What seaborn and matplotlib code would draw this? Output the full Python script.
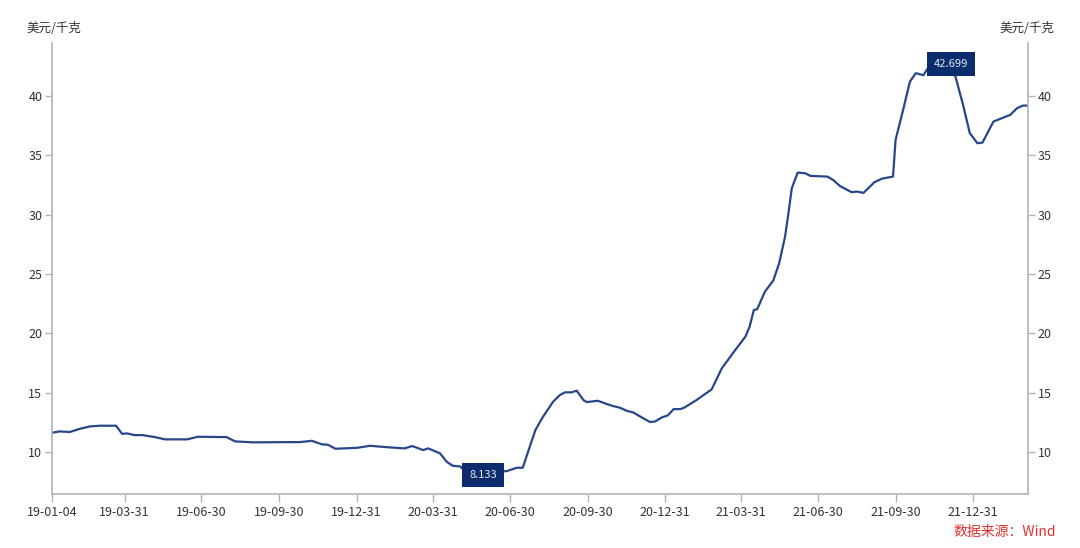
import pandas as pd
import matplotlib.pyplot as plt
import matplotlib.dates as mdates
import seaborn as sns

# weekly-ish price readings, USD per kg
dates = [
    '2019-01-04', '2019-01-13', '2019-01-25', '2019-02-06', '2019-02-18', '2019-03-02',
    '2019-03-21', '2019-03-28', '2019-04-03', '2019-04-12', '2019-04-21', '2019-05-06',
    '2019-05-18', '2019-06-13', '2019-06-26', '2019-07-30', '2019-08-09', '2019-08-30',
    '2019-10-13', '2019-10-25', '2019-11-08', '2019-11-20', '2019-11-27', '2019-12-06',
    '2020-01-01', '2020-01-16', '2020-02-09', '2020-02-26', '2020-03-06', '2020-03-19',
    '2020-03-25', '2020-04-08', '2020-04-16', '2020-04-23', '2020-05-02', '2020-05-11',
    '2020-05-25', '2020-06-12', '2020-06-26', '2020-07-08', '2020-07-15', '2020-07-30',
    '2020-08-08', '2020-08-20', '2020-08-28', '2020-09-03', '2020-09-11', '2020-09-17',
    '2020-09-25', '2020-09-29', '2020-10-12', '2020-10-23', '2020-10-30', '2020-11-07',
    '2020-11-16', '2020-11-23', '2020-12-03', '2020-12-13', '2020-12-19', '2020-12-27',
    '2021-01-03', '2021-01-10', '2021-01-18', '2021-01-23', '2021-02-06', '2021-02-24',
    '2021-03-08', '2021-03-24', '2021-04-05', '2021-04-10', '2021-04-15', '2021-04-19',
    '2021-04-28', '2021-05-08', '2021-05-15', '2021-05-22', '2021-05-26', '2021-05-30',
    '2021-06-06', '2021-06-15', '2021-06-21', '2021-07-11', '2021-07-18', '2021-07-26',
    '2021-08-09', '2021-08-15', '2021-08-23', '2021-09-05', '2021-09-14', '2021-09-27',
    '2021-09-30', '2021-10-09', '2021-10-17', '2021-10-24', '2021-11-02', '2021-11-08',
    '2021-11-17', '2021-11-29', '2021-12-10', '2021-12-19', '2021-12-27', '2022-01-05',
    '2022-01-11', '2022-01-24', '2022-02-03', '2022-02-13', '2022-02-21', '2022-02-28',
    '2022-03-06',
]
prices = [
    11.63, 11.74, 11.69, 11.96, 12.16, 12.22,
    12.22, 11.54, 11.57, 11.43, 11.43, 11.26,
    11.07, 11.07, 11.29, 11.26, 10.90, 10.82,
    10.84, 10.84, 10.95, 10.65, 10.62, 10.28,
    10.36, 10.53, 10.39, 10.31, 10.51, 10.17,
    10.31, 9.89, 9.18, 8.85, 8.79, 8.133,
    8.20, 8.30, 8.40, 8.68, 8.68, 11.85,
    12.97, 14.24, 14.80, 15.03, 15.03, 15.17,
    14.38, 14.21, 14.32, 14.04, 13.88, 13.74,
    13.46, 13.34, 12.92, 12.53, 12.58, 12.92,
    13.09, 13.62, 13.62, 13.76, 14.38, 15.28,
    17.05, 18.60, 19.72, 20.56, 21.97, 22.03,
    23.50, 24.44, 25.90, 28.14, 30.11, 32.22,
    33.54, 33.48, 33.26, 33.20, 32.92, 32.41,
    31.88, 31.94, 31.83, 32.73, 33.03, 33.20,
    36.29, 38.82, 41.20, 41.91, 41.74, 42.41,
    42.699, 42.50, 41.63, 39.24, 36.86, 36.01,
    36.06, 37.83, 38.12, 38.40, 38.96, 39.18,
    39.18,
]
tick_dates = ['2019-01-04', '2019-03-31', '2019-06-30', '2019-09-30', '2019-12-31',
              '2020-03-31', '2020-06-30', '2020-09-30', '2020-12-31', '2021-03-31',
              '2021-06-30', '2021-09-30', '2021-12-31']
y_ticks = [10, 15, 20, 25, 30, 35, 40]
unit = '美元/千克'
source = '数据来源：Wind'

df = pd.DataFrame({'date': pd.to_datetime(dates), 'price': prices})

sns.set_style('white')
plt.rcParams['font.family'] = ['Noto Sans CJK SC', 'DejaVu Sans']

fig = plt.figure(figsize=(10.8, 5.48), dpi=100)
ax = fig.add_axes([52 / 1080, 54 / 548, 976 / 1080, 451 / 548])

line_c = '#27478a'
box_c = '#0b2d6e'
axis_c = '#b3b3b3'
text_c = '#333333'

sns.lineplot(data=df, x='date', y='price', ax=ax, color=line_c, linewidth=1.6)

ax.set_xlim(pd.Timestamp('2019-01-04'), pd.Timestamp('2022-03-06'))
ax.set_ylim(6.47, 44.45)
ax.set_xticks(pd.to_datetime(tick_dates))
ax.xaxis.set_major_formatter(mdates.DateFormatter('%y-%m-%d'))
ax.set_yticks(y_ticks)
ax.set_xlabel('')
ax.set_ylabel('')

ax.spines['top'].set_visible(False)
for side in ['left', 'right', 'bottom']:
    ax.spines[side].set_color(axis_c)
    ax.spines[side].set_linewidth(1.2)

ax.tick_params(axis='y', which='both', left=True, right=True, labelleft=True,
               labelright=True, length=5, width=1, color=axis_c,
               labelsize=9, labelcolor=text_c, pad=2)
ax.tick_params(axis='x', bottom=True, length=6, width=1, color=axis_c,
               labelsize=9, labelcolor=text_c, pad=3)

# min / max markers
imin = df['price'].idxmin()
imax = df['price'].idxmax()
for i, dy in [(imin, -1), (imax, 0)]:
    ax.annotate(f"{df['price'][i]:.3f}", (df['date'][i], df['price'][i]),
                xytext=(15, dy), textcoords='offset pixels', ha='center', va='center',
                fontsize=8, color='#e3e8f2',
                bbox=dict(boxstyle='square,pad=0.65', fc=box_c, ec='none'))

fig.text(26 / 1080, 1 - 28 / 548, unit, fontsize=9, color=text_c, va='center', ha='left')
fig.text(1054 / 1080, 1 - 28 / 548, unit, fontsize=9, color=text_c, va='center', ha='right')
fig.text(1056 / 1080, 1 - 532 / 548, source, fontsize=10, color='#e0312f', va='center', ha='right')

fig.savefig('out.png', dpi=100, facecolor='white')
